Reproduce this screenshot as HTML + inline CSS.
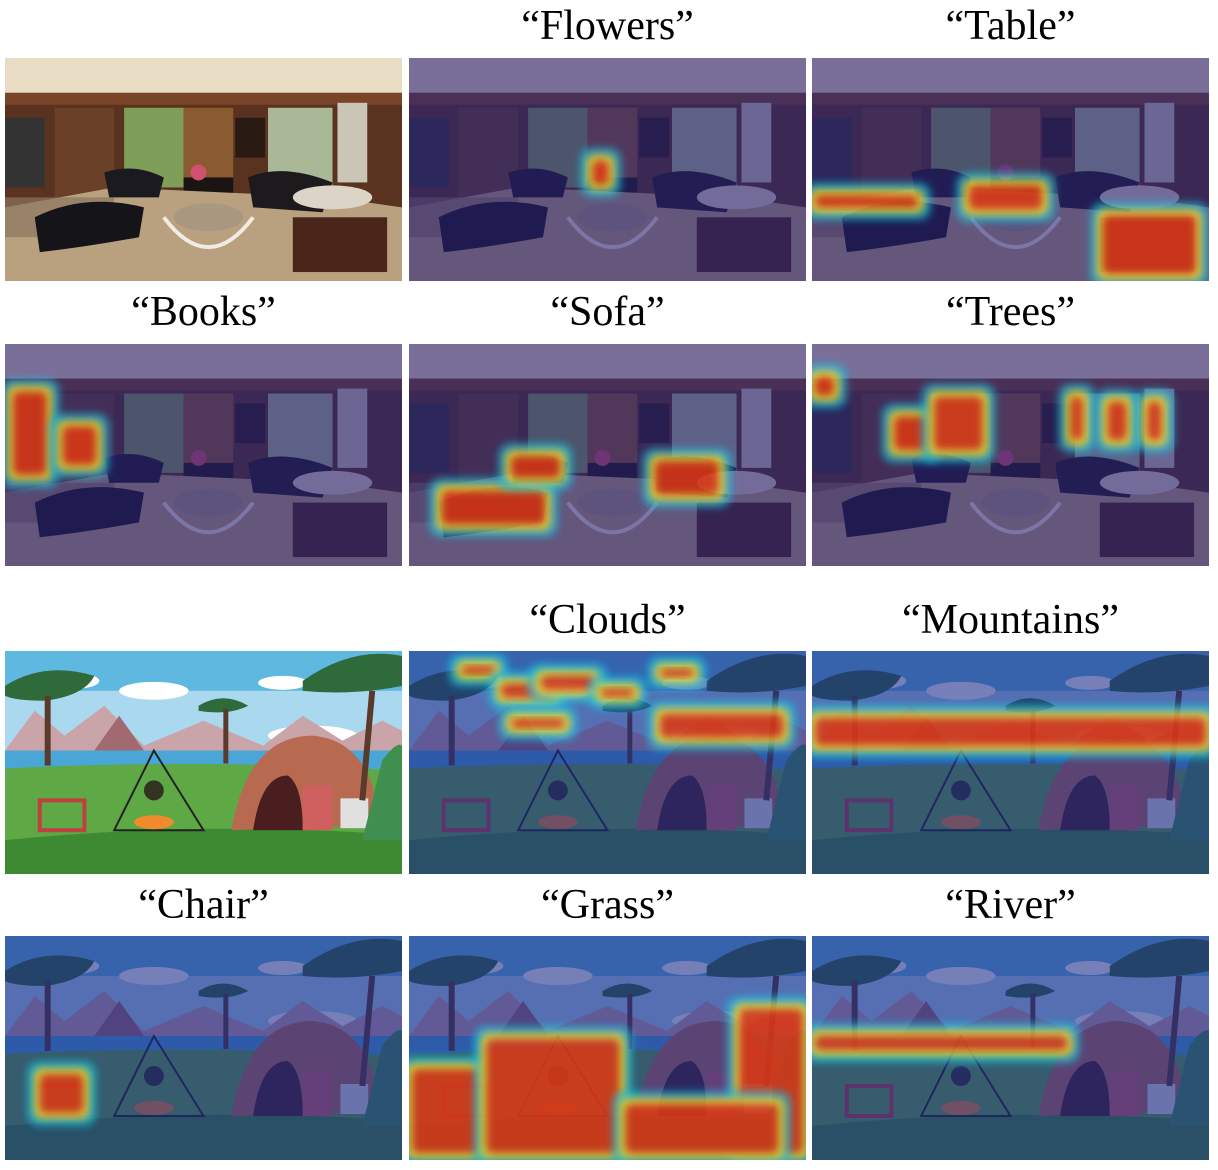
<!DOCTYPE html>
<html><head><meta charset="utf-8">
<style>
html,body{margin:0;padding:0;background:#fff;}
body{width:1218px;height:1170px;position:relative;overflow:hidden;font-family:"Liberation Serif",serif;}
.lbl{position:absolute;width:397px;text-align:center;font-size:42px;line-height:44px;color:#000;}
svg.p{position:absolute;}
</style></head>
<body>
<div id="root"></div>
<script>
const cols=[5,409,812], W=397;
const rows=[58,344,651,936], H=[223,222,223,224];
const labels=[["", "“Flowers”","“Table”"],["“Books”","“Sofa”","“Trees”"],["","“Clouds”","“Mountains”"],["“Chair”","“Grass”","“River”"]];
const labelTop=[4,290,598,883];
const heat={
 "Flowers":[[182,100,22,30]],
 "Table":[[0,135,110,18],[155,125,80,30],[290,155,100,65]],
 "Books":[[5,45,40,90],[55,80,40,45]],
 "Sofa":[[30,145,110,40],[100,110,55,28],[245,115,70,40]],
 "Trees":[[0,30,25,25],[80,70,40,40],[120,50,55,60],[258,50,18,50],[295,55,25,45],[335,55,20,45]],
 "Clouds":[[50,12,40,14],[90,30,60,20],[130,22,60,20],[190,35,40,14],[250,15,40,14],[250,60,130,30],[100,65,60,15]],
 "Mountains":[[0,64,400,34]],
 "Chair":[[32,135,50,45]],
 "Grass":[[0,130,75,90],[75,100,140,120],[330,70,70,150],[215,165,160,55]],
 "River":[[0,97,260,20]]
};
function room(){return `
<rect width="400" height="224" fill="#5a3220"/>
<rect width="400" height="35" fill="#e9dcc4"/>
<rect x="0" y="35" width="400" height="12" fill="#7a4428"/>
<rect x="120" y="50" width="60" height="80" fill="#7f9e5a"/>
<rect x="180" y="50" width="50" height="70" fill="#8a5a30"/>
<rect x="232" y="60" width="30" height="40" fill="#2a1a14"/>
<rect x="265" y="50" width="65" height="80" fill="#a9b998"/>
<rect x="335" y="45" width="30" height="80" fill="#c9c6b8"/>
<rect x="0" y="60" width="40" height="70" fill="#333"/>
<rect x="50" y="50" width="60" height="90" fill="#6a4028"/>
<rect x="180" y="120" width="50" height="30" fill="#1a1412"/>
<polygon points="0,224 0,150 110,130 330,140 400,150 400,224" fill="#b9a07e"/>
<rect x="0" y="140" width="110" height="40" fill="#8a7560" opacity=".7"/>
<path d="M30,160 Q80,135 140,150 L135,180 Q80,190 35,195Z" fill="#151418"/>
<path d="M100,115 Q130,105 160,120 L155,140 L105,140Z" fill="#1a1a20"/>
<path d="M245,120 Q280,105 330,125 L320,155 L250,150Z" fill="#1c1a1c"/>
<ellipse cx="330" cy="140" rx="40" ry="12" fill="#dcd4c6"/>
<rect x="290" y="160" width="95" height="55" fill="#4a261a"/>
<ellipse cx="205" cy="160" rx="35" ry="14" fill="#a89880"/>
<path d="M160,160 Q205,220 250,160" fill="none" stroke="#f0ece4" stroke-width="4"/>
<circle cx="195" cy="115" r="8" fill="#d05070"/>`}
function camp(){return `
<rect width="400" height="224" fill="#aad8ee"/>
<rect width="400" height="40" fill="#5fb8e0"/>
<ellipse cx="70" cy="30" rx="25" ry="8" fill="#fff"/><ellipse cx="150" cy="40" rx="35" ry="9" fill="#fff"/>
<ellipse cx="280" cy="32" rx="25" ry="7" fill="#fff"/><ellipse cx="310" cy="85" rx="45" ry="10" fill="#fff"/>
<polygon points="0,100 30,60 60,85 100,55 140,95 200,70 260,95 300,65 340,90 380,70 400,80 400,110 0,110" fill="#c9a4a8"/>
<polygon points="90,100 115,65 140,100" fill="#a06a70"/>
<rect x="0" y="100" width="400" height="25" fill="#4aa6d6"/>
<path d="M0,118 Q200,108 400,120 L400,224 L0,224Z" fill="#5ea845"/>
<path d="M0,190 Q200,170 400,185 L400,224 L0,224Z" fill="#3d8a33"/>
<path d="M228,180 Q245,85 310,85 Q370,90 378,175Z" fill="#b86a50"/>
<path d="M250,180 Q258,125 285,125 Q300,135 300,180Z" fill="#4a1e1e"/>
<rect x="300" y="135" width="30" height="45" fill="#d06060"/><rect x="338" y="148" width="28" height="30" fill="#e0e0e0"/>
<polygon points="150,100 110,180 200,180" fill="none" stroke="#222" stroke-width="2"/>
<ellipse cx="150" cy="172" rx="20" ry="7" fill="#f08a2a"/><circle cx="150" cy="140" r="10" fill="#332"/>
<rect x="35" y="150" width="45" height="30" fill="none" stroke="#c04040" stroke-width="4"/>
<path d="M0,35 Q40,10 90,25 Q80,45 40,50 Q10,50 0,45Z" fill="#2f6a3a"/>
<rect x="40" y="45" width="6" height="70" fill="#5a3a2a"/>
<path d="M195,55 Q220,40 245,55 Q225,65 195,60Z" fill="#2f6a3a"/><rect x="220" y="58" width="5" height="55" fill="#5a3a2a"/>
<path d="M300,30 Q350,-5 400,5 L400,35 Q350,45 300,40Z" fill="#2f6a3a"/><path d="M370,40 L360,150" stroke="#5a3a2a" stroke-width="6"/>
<path d="M380,110 Q395,90 400,95 L400,190 L360,190Z" fill="#3f8f50"/>`}
let n=0;
function blobs(list){
 let s='';
 for(const [x,y,w,h] of list){
  s+=`<rect x="${x-10}" y="${y-10}" width="${w+20}" height="${h+20}" rx="12" fill="#18c8e8" opacity=".7" filter="url(#bl${n})"/>`;
  s+=`<rect x="${x-3}" y="${y-3}" width="${w+6}" height="${h+6}" rx="8" fill="#f0e030" filter="url(#bl${n})"/>`;
  s+=`<rect x="${x+3}" y="${y+3}" width="${Math.max(w-6,4)}" height="${Math.max(h-6,4)}" rx="6" fill="#e02810" opacity=".9" filter="url(#bl${n})"/>`;
 }
 return s;
}
const root=document.getElementById('root');
for(let r=0;r<4;r++)for(let c=0;c<3;c++){
 const lab=labels[r][c];
 if(lab){
  const d=document.createElement('div');d.className='lbl';d.textContent=lab;
  d.style.left=cols[c]+'px';d.style.top=labelTop[r]+'px';
  
  
  root.appendChild(d);
 }
 n++;
 const key=lab.replace(/[“”]/g,'');
 const base=r<2?room():camp();
 const overlay=c===0&&(r===0||r===2)?'':`<rect width="400" height="224" fill="${r<2?'#28207a':'#1c2a8a'}" opacity="${r<2?0.58:0.6}"/>`;
 const hm=heat[key]?blobs(heat[key]):'';
 const svg=`<svg class="p" style="left:${cols[c]}px;top:${rows[r]}px" width="${W}" height="${H[r]}" viewBox="0 0 400 224" preserveAspectRatio="none"><defs><filter id="bl${n}" x="-30%" y="-30%" width="160%" height="160%"><feGaussianBlur stdDeviation="4"/></filter><clipPath id="cp${n}"><rect width="400" height="224"/></clipPath></defs><g clip-path="url(#cp${n})">${base}${overlay}<g opacity=".85">${hm}</g></g></svg>`;
 const wrap=document.createElement('div');wrap.innerHTML=svg;
 const el=wrap.firstChild;
 
 
 root.appendChild(el);
}
</script>
</body></html>
